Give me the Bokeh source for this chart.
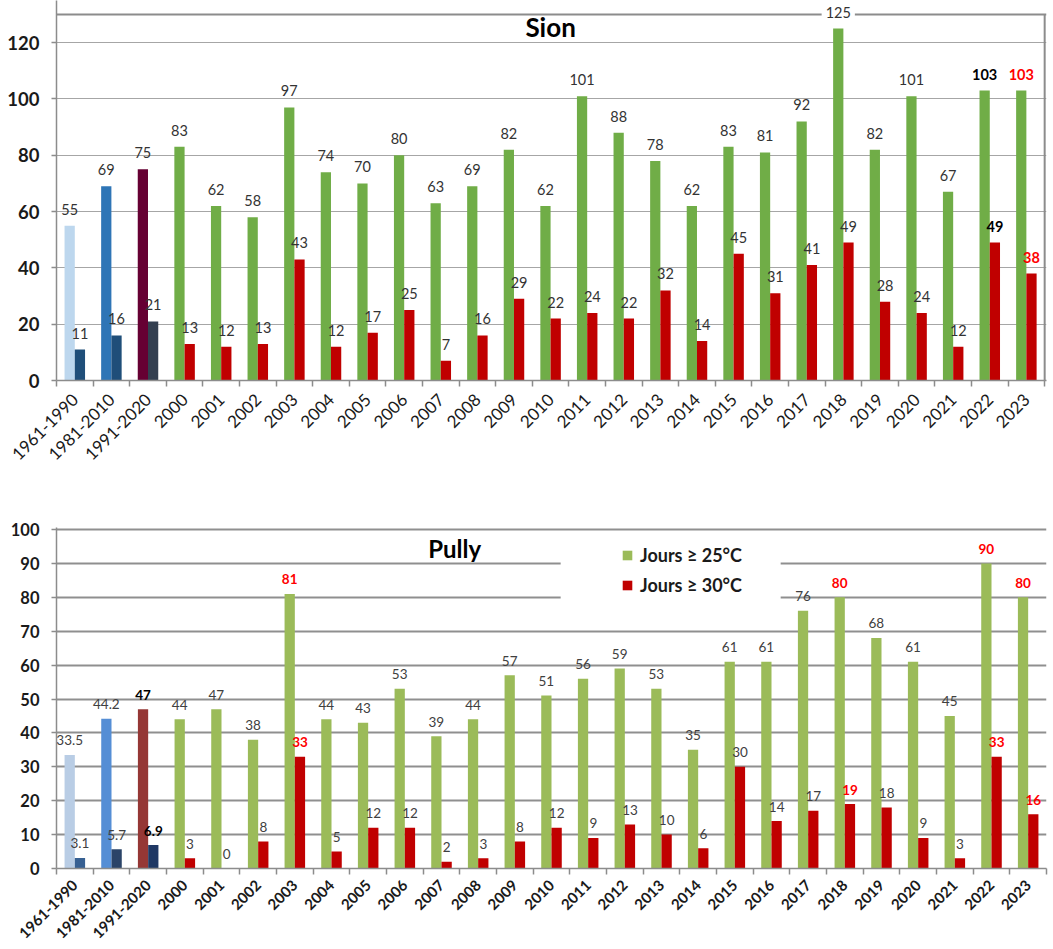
import math
from bokeh.plotting import figure
from bokeh.models import (ColumnDataSource, Range1d, FixedTicker, Span, Legend,
                          LegendItem, Label, BoxAnnotation)
from bokeh.layouts import column
from bokeh.transform import dodge
from bokeh.core.properties import value
from bokeh.embed import file_html
from bokeh.resources import INLINE

# ---------------- data ----------------
categories = ["1961-1990", "1981-2010", "1991-2020"] + [str(y) for y in range(2000, 2024)]

sion_25 = [55, 69, 75, 83, 62, 58, 97, 74, 70, 80, 63, 69, 82, 62, 101, 88, 78, 62,
           83, 81, 92, 125, 82, 101, 67, 103, 103]
sion_30 = [11, 16, 21, 13, 12, 13, 43, 12, 17, 25, 7, 16, 29, 22, 24, 22, 32, 14,
           45, 31, 41, 49, 28, 24, 12, 49, 38]

pully_25 = [33.5, 44.2, 47, 44, 47, 38, 81, 44, 43, 53, 39, 44, 57, 51, 56, 59, 53, 35,
            61, 61, 76, 80, 68, 61, 45, 90, 80]
pully_30 = [3.1, 5.7, 6.9, 3, 0, 8, 33, 5, 12, 12, 2, 3, 8, 12, 9, 13, 10, 6,
            30, 14, 17, 19, 18, 9, 3, 33, 16]

series_labels = ["Jours ≥ 25°C", "Jours ≥ 30°C"]

sion_bold_black = ["2022"]
sion_bold_red = ["2023"]
pully_bold_black = ["1991-2020"]
pully_bold_red = ["2003", "2018", "2022", "2023"]

# ---------------- styles ----------------
FONT = "Lato"
top_c25 = ["#BDD7EE", "#2E75B6", "#660033"] + ["#70AD47"] * 24
top_c30 = ["#1F4E79", "#1F4E79", "#333F50"] + ["#C00000"] * 24
bot_c25 = ["#B9CDE5", "#558ED5", "#953735"] + ["#9BBB59"] * 24
bot_c30 = ["#376092", "#2B4468", "#1F3864"] + ["#C00000"] * 24

BW = 0.28
xs = list(range(len(categories)))


def fmt(v):
    return f"{v:g}"


def label_styles(bold_black, bold_red, normal_color):
    colors, styles = [], []
    for c in categories:
        if c in bold_black:
            colors.append("#000000"); styles.append("bold")
        elif c in bold_red:
            colors.append("#FF0000"); styles.append("bold")
        else:
            colors.append(normal_color); styles.append("normal")
    return colors, styles


def style_x_axis(p, size, bold, standoff):
    p.xaxis.ticker = FixedTicker(ticks=xs, minor_ticks=[i - 0.5 for i in range(len(categories) + 1)])
    p.xaxis.major_label_overrides = {i: c for i, c in enumerate(categories)}
    p.xaxis.major_label_orientation = math.pi / 4
    p.xaxis.major_tick_out = 0
    p.xaxis.major_tick_in = 0
    p.xaxis.minor_tick_out = 6
    p.xaxis.minor_tick_in = 0
    p.xaxis.axis_line_color = "#8c8c8c"
    p.xaxis.axis_line_width = 1.5
    p.xaxis.minor_tick_line_color = "#8c8c8c"
    p.xaxis.minor_tick_line_width = 1.5
    p.xaxis.major_label_text_font = FONT
    p.xaxis.major_label_text_font_size = size
    p.xaxis.major_label_text_font_style = "bold" if bold else "normal"
    p.xaxis.major_label_text_color = "#1a1a1a"
    p.xaxis.major_label_standoff = standoff
    p.xgrid.visible = False


def style_y_axis(p, ticks, size):
    p.yaxis.ticker = FixedTicker(ticks=ticks)
    p.yaxis.major_tick_out = 5
    p.yaxis.major_tick_in = 0
    p.yaxis.minor_tick_out = 0
    p.yaxis.minor_tick_in = 0
    p.yaxis.axis_line_color = "#8c8c8c"
    p.yaxis.axis_line_width = 1.5
    p.yaxis.major_tick_line_color = "#8c8c8c"
    p.yaxis.major_tick_line_width = 1.5
    p.yaxis.major_label_text_font = FONT
    p.yaxis.major_label_text_font_size = size
    p.yaxis.major_label_text_font_style = "bold"
    p.yaxis.major_label_text_color = "#1a1a1a"
    p.yaxis.major_label_standoff = 12


# ---------------- Sion ----------------
lc_t, ls_t = label_styles(sion_bold_black, sion_bold_red, "#333333")
bg_t = ["white" if v == max(sion_25) else "rgba(255,255,255,0)" for v in sion_25]
src_t = ColumnDataSource(dict(
    x=xs, v25=sion_25, v30=sion_30, c25=top_c25, c30=top_c30,
    t25=[fmt(v) for v in sion_25], t30=[fmt(v) for v in sion_30],
    lc=lc_t, ls=ls_t, bg=bg_t,
))

p1 = figure(width=1053, height=488, x_range=Range1d(-0.5, 26.55), y_range=Range1d(0, 134.97),
            output_backend="svg", toolbar_location=None,
            min_border_left=54, min_border_right=7, min_border_top=0, min_border_bottom=108)
p1.outline_line_color = None
p1.background_fill_color = "white"
style_x_axis(p1, "17px", False, 10)
style_y_axis(p1, list(range(0, 121, 20)), "18.5px")
p1.ygrid.grid_line_color = "#a6a6a6"
p1.ygrid.grid_line_width = 1.2

p1.add_layout(Span(location=130, dimension="width", line_color="#8c8c8c", line_width=2, level="underlay"))
p1.segment(x0=[26.5], y0=[0], x1=[26.5], y1=[130], line_color="#8c8c8c", line_width=2)

p1.vbar(x=dodge("x", -BW / 2), top="v25", width=BW, fill_color="c25", line_color=None, source=src_t)
p1.vbar(x=dodge("x", BW / 2), top="v30", width=BW, fill_color="c30", line_color=None, source=src_t)
p1.text(x=dodge("x", -BW / 2), y="v25", text="t25", text_align="center", text_baseline="middle",
        y_offset=-16.5, text_font=value(FONT), text_font_size="14.5px", text_color="lc",
        text_font_style="ls", background_fill_color="bg", padding=4, source=src_t)
p1.text(x=dodge("x", BW / 2), y="v30", text="t30", text_align="center", text_baseline="middle",
        y_offset=-16.5, text_font=value(FONT), text_font_size="14.5px", text_color="lc",
        text_font_style="ls", source=src_t)
p1.add_layout(Label(x=13, y=125.4, text="Sion", text_align="center", text_baseline="middle",
                    text_font=FONT, text_font_size="26px", text_font_style="bold", text_color="#000000"))

# ---------------- Pully ----------------
lc_b, ls_b = label_styles(pully_bold_black, pully_bold_red, "#404040")
src_b = ColumnDataSource(dict(
    x=xs, v25=pully_25, v30=pully_30, c25=bot_c25, c30=bot_c30,
    t25=[fmt(v) for v in pully_25], t30=[fmt(v) for v in pully_30],
    lc=lc_b, ls=ls_b,
))

p2 = figure(width=1053, height=461, x_range=Range1d(-0.5, 26.5), y_range=Range1d(0, 100.59),
            output_backend="svg", toolbar_location=None,
            min_border_left=56, min_border_right=0, min_border_top=39, min_border_bottom=81)
p2.outline_line_color = None
style_x_axis(p2, "15px", True, 8)
style_y_axis(p2, list(range(0, 101, 10)), "16.5px")
p2.ygrid.grid_line_color = "#8f8f8f"
p2.ygrid.grid_line_width = 2

r25 = p2.vbar(x=dodge("x", -BW / 2), top="v25", width=BW, fill_color="c25", line_color=None, source=src_b)
r30 = p2.vbar(x=dodge("x", BW / 2), top="v30", width=BW, fill_color="c30", line_color=None, source=src_b)
p2.text(x=dodge("x", -BW / 2), y="v25", text="t25", text_align="center", text_baseline="middle",
        y_offset=-14.5, text_font=value(FONT), text_font_size="13.5px", text_color="lc",
        text_font_style="ls", source=src_b)
p2.text(x=dodge("x", BW / 2), y="v30", text="t30", text_align="center", text_baseline="middle",
        y_offset=-14.5, text_font=value(FONT), text_font_size="13.5px", text_color="lc",
        text_font_style="ls", source=src_b)
p2.add_layout(Label(x=10.36, y=94.4, text="Pully", text_align="center", text_baseline="middle",
                    text_font=FONT, text_font_size="24px", text_font_style="bold", text_color="#000000"))

p2.add_layout(BoxAnnotation(left=13.25, right=19.25, bottom=73.2, top=98.2,
                            fill_color="white", fill_alpha=1.0, line_color=None))
legend = Legend(items=[LegendItem(label=series_labels[0], renderers=[r25], index=3),
                       LegendItem(label=series_labels[1], renderers=[r30], index=3)],
                location=(565, 272), background_fill_alpha=0, border_line_color=None,
                label_text_font=FONT, label_text_font_size="18px", label_text_font_style="bold",
                label_text_color="#1a1a1a", glyph_width=12, glyph_height=12, label_standoff=7,
                label_height=22, spacing=8, padding=6, margin=0)
p2.add_layout(legend)

layout = column(p1, p2, spacing=0)
open("out.html", "w").write(file_html(layout, INLINE))
